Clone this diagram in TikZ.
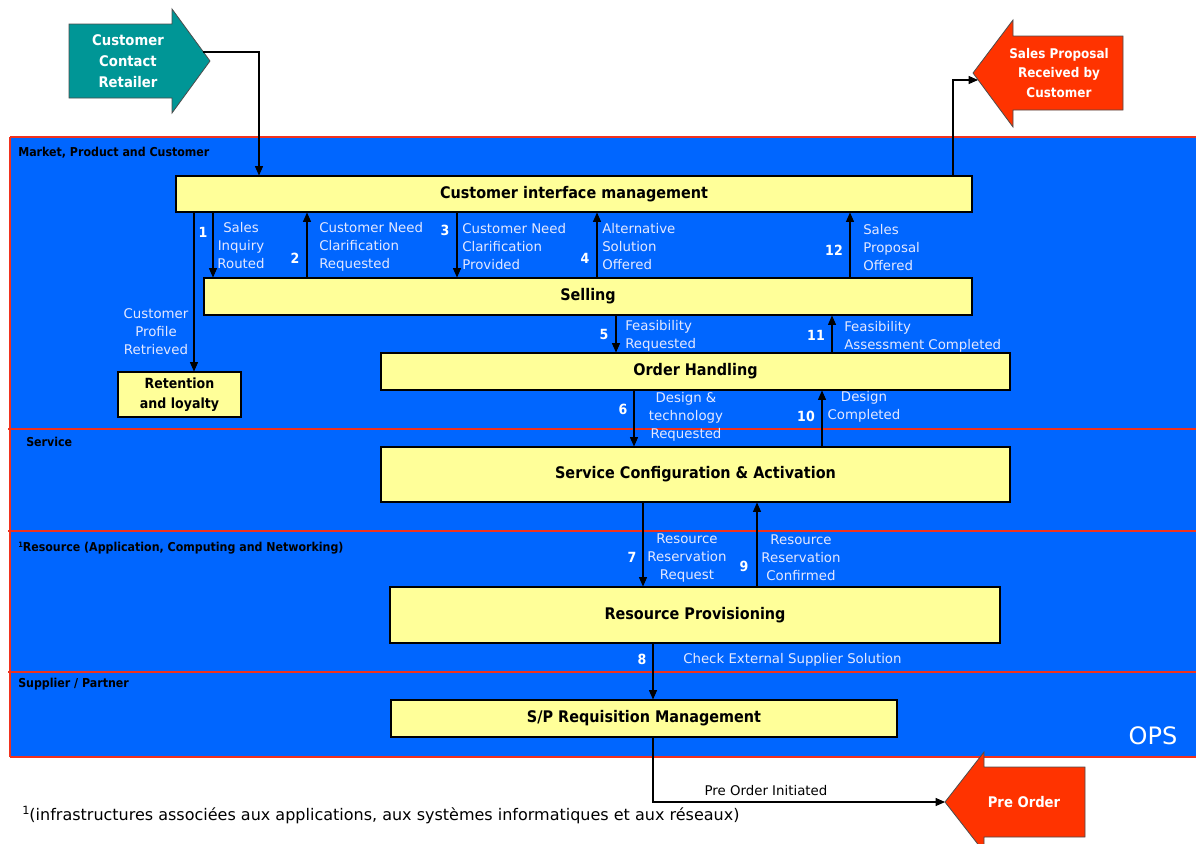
\documentclass[tikz,border=0pt]{standalone}
\usepackage{fontspec}
\setmainfont{DejaVu Sans}
\newfontfamily\condbf[FakeStretch=0.9]{DejaVu Sans Bold}
\usetikzlibrary{arrows.meta,calc}
\definecolor{laneblue}{RGB}{0,102,255}
\definecolor{laneline}{RGB}{240,50,30}
\definecolor{boxyellow}{RGB}{255,255,153}
\definecolor{tealarrow}{RGB}{0,150,150}
\definecolor{redarrow}{RGB}{255,51,0}
\definecolor{labcol}{RGB}{228,232,255}
\begin{document}
\begin{tikzpicture}[x=0.75pt,y=-0.75pt,
  box/.style={draw=black, fill=boxyellow, line width=0.8pt, inner sep=0pt, font=\condbf\fontsize{12}{14}\selectfont},
  arr/.style={-{Triangle[length=7pt,width=6pt]}, line width=0.8pt, draw=black},
  num/.style={text=white, font=\condbf\fontsize{10.5}{12}\selectfont, inner sep=0pt},
  lab/.style={text=labcol, font=\fontsize{10}{13.5}\selectfont, inner sep=0pt},
  lane/.style={anchor=west, text=black, font=\condbf\fontsize{9.2}{10}\selectfont, inner sep=0pt},
  bigtxt/.style={text=white, font=\condbf\fontsize{11}{16}\selectfont, align=center, inner sep=0pt},
  bigshape/.style={draw=black!70, line width=0.6pt},
  laneborder/.style={draw=laneline, line width=1pt}
]
\useasboundingbox (0,0) rectangle (1196,843);
\clip (0,0) rectangle (1196,843);

% lanes
\fill[laneblue] (10,137) rectangle (1196,757);
\draw[laneborder] (10,137) -- (1196,137);
\draw[laneborder] (10,757) -- (1196,757);
\draw[laneborder] (10,137) -- (10,757);
\draw[laneborder] (8,429) -- (1196,429);
\draw[laneborder] (8,531) -- (1196,531);
\draw[laneborder] (8,672) -- (1196,672);

\node[lane] (l1) at (18,153) {Market, Product and Customer};
\node[lane] (l2) at (26,442) {Service};
\node[lane] (l3) at (18,548) {\raisebox{0.5ex}{\fontsize{5.5}{6}\selectfont 1}Resource (Application, Computing and Networking)};
\node[lane] (l4) at (18,684) {Supplier / Partner};
\node[text=white, font=\fontsize{18}{20}\selectfont, inner sep=0pt] (ops) at (1153,736) {OPS};

% boxes
\node[box, minimum width=597pt, minimum height=27pt] (cim) at (574,194) {Customer interface management};
\node[box, minimum width=576pt, minimum height=27.75pt] (sell) at (588,296.5) {Selling};
\node[box, minimum width=471.75pt, minimum height=27.75pt] (oh) at (695.5,371.5) {Order Handling};
\node[box, minimum width=92.25pt, minimum height=33.75pt, align=center, font=\condbf\fontsize{10.5}{15}\selectfont] (ret) at (179.5,394.5) {Retention\\and loyalty};
\node[box, minimum width=471.75pt, minimum height=41.25pt] (sca) at (695.5,474.5) {Service Configuration \& Activation};
\node[box, minimum width=457.5pt, minimum height=42pt] (rp) at (695,615) {Resource Provisioning};
\node[box, minimum width=379.5pt, minimum height=27.75pt] (sp) at (644,718.5) {S/P Requisition Management};

% big arrows
\draw[bigshape, fill=tealarrow] (69,24) -- (172,24) -- (172,9) -- (210,61) -- (172,113) -- (172,98) -- (69,98) -- cycle;
\node[bigtxt] (ccr) at (128,61) {Customer\\Contact\\Retailer};
\coordinate (ccrout) at (203,52);

\draw[bigshape, fill=redarrow] (1123,36) -- (1013,36) -- (1013,20) -- (973,73) -- (1013,127) -- (1013,110) -- (1123,110) -- cycle;
\node[bigtxt, font=\condbf\fontsize{10}{14.6}\selectfont] (spr) at (1059,73) {Sales Proposal\\Received by\\Customer};
\coordinate (sprin) at (978,80);

\draw[bigshape, fill=redarrow] (1085,767) -- (984,767) -- (984,752) -- (945,802) -- (984,852) -- (984,837) -- (1085,837) -- cycle;
\node[bigtxt] (po) at (1024,802) {Pre Order};
\coordinate (poin) at (945,802);

% external connectors
\draw[arr] (ccrout) -| (cim.north -| 259,0);
\draw[arr] (cim.north -| 953,0) |- (sprin);
\draw[arr] (sp.south -| 653,0) |- (poin);
\node[text=black, font=\fontsize{10}{12}\selectfont, inner sep=0pt] (poi) at (766,791) {Pre Order Initiated};

% connectors CIM <-> Selling
\draw[arr] (cim.south -| 213,0) -- (sell.north -| 213,0);
\node[num] (n1) at (203,232) {1};
\node[lab, align=center] (t1) at (241,246) {Sales\\Inquiry\\Routed};

\draw[arr] (cim.south -| 194,0) -- (ret.north -| 194,0);
\node[lab, align=center] (tcp) at (156,332) {Customer\\Profile\\Retrieved};

\draw[arr] (sell.north -| 307,0) -- (cim.south -| 307,0);
\node[num] (n2) at (295,258) {2};
\node[lab, align=left, anchor=west] (t2) at (319,247) {Customer Need\\Clarification\\Requested};

\draw[arr] (cim.south -| 457,0) -- (sell.north -| 457,0);
\node[num] (n3) at (445,230) {3};
\node[lab, align=left, anchor=west] (t3) at (462,247) {Customer Need\\Clarification\\Provided};

\draw[arr] (sell.north -| 597,0) -- (cim.south -| 597,0);
\node[num] (n4) at (585,258) {4};
\node[lab, align=left, anchor=west] (t4) at (602,247) {Alternative\\Solution\\Offered};

\draw[arr] (sell.north -| 850,0) -- (cim.south -| 850,0);
\node[num] (n12) at (834,250) {12};
\node[lab, align=left, anchor=west] (t12) at (863,248) {Sales\\Proposal\\Offered};

% Selling <-> Order handling
\draw[arr] (sell.south -| 616,0) -- (oh.north -| 616,0);
\node[num] (n5) at (604,334) {5};
\node[lab, align=left, anchor=west] (t5) at (625,336) {Feasibility\\Requested};

\draw[arr] (oh.north -| 832,0) -- (sell.south -| 832,0);
\node[num] (n11) at (816,335) {11};
\node[lab, align=left, anchor=west] (t11) at (844,337) {Feasibility\\Assessment Completed};

% Order handling <-> SCA
\draw[arr] (oh.south -| 634,0) -- (sca.north -| 634,0);
\node[num] (n6) at (623,409) {6};
\node[lab, align=center] (t6) at (686,417) {Design \&\\technology\\Requested};

\draw[arr] (sca.north -| 822,0) -- (oh.south -| 822,0);
\node[num] (n10) at (806,416) {10};
\node[lab, align=center] (t10) at (864,407) {Design\\Completed};

% SCA <-> RP
\draw[arr] (sca.south -| 643,0) -- (rp.north -| 643,0);
\node[num] (n7) at (632,557) {7};
\node[lab, align=center] (t7) at (687,558) {Resource\\Reservation\\Request};

\draw[arr] (rp.north -| 757,0) -- (sca.south -| 757,0);
\node[num] (n9) at (744,566) {9};
\node[lab, align=center] (t9) at (801,558) {Resource\\Reservation\\Confirmed};

% RP -> SP
\draw[arr] (rp.south -| 653,0) -- (sp.north -| 653,0);
\node[num] (n8) at (642,659) {8};
\node[lab, anchor=west] (t8) at (683,660) {Check External Supplier Solution};

% footnote
\node[anchor=west, text=black, font=\fontsize{12}{14}\selectfont, inner sep=0pt] (fn) at (22,815) {\raisebox{0.6ex}{\fontsize{8.5}{9}\selectfont 1}(infrastructures associées aux applications, aux systèmes informatiques et aux réseaux)};
\end{tikzpicture}
\end{document}
